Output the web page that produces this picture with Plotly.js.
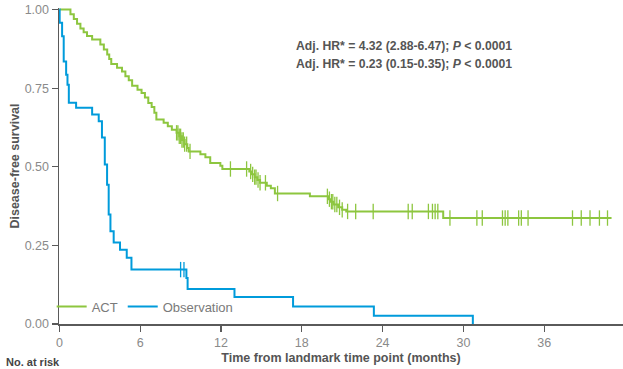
<!DOCTYPE html>
<html><head><meta charset="utf-8">
<script src="https://cdn.plot.ly/plotly-3.0.1.min.js"></script>
<style>html,body{margin:0;padding:0;background:#fff}</style>
</head><body><div id="chart" style="width:623px;height:369px"></div>
<script>
// ACT arm: Kaplan-Meier step points (months, survival)
const actTime = [0, 0.82, 1.07, 1.31, 1.56, 1.80, 2.05, 2.43, 3.04, 3.30, 3.55, 3.70, 3.85, 4.28, 4.65, 4.90, 5.15, 5.40, 5.80, 6.10, 6.35, 6.60, 6.85, 7.05, 7.20, 7.74, 8.05, 8.35, 8.70, 8.90, 9.10, 9.30, 9.50, 9.60, 10.47, 10.84, 11.20, 11.95, 12.10, 14.10, 14.30, 14.50, 14.70, 14.90, 15.40, 15.70, 16.00, 18.60, 19.95, 20.15, 20.35, 20.70, 21.00, 21.30, 28.50, 41.00];
const actSurv = [1.0, 0.985, 0.970, 0.955, 0.940, 0.928, 0.916, 0.905, 0.889, 0.873, 0.857, 0.843, 0.827, 0.815, 0.803, 0.788, 0.775, 0.758, 0.745, 0.735, 0.720, 0.703, 0.690, 0.672, 0.650, 0.640, 0.629, 0.618, 0.608, 0.597, 0.585, 0.572, 0.560, 0.549, 0.540, 0.530, 0.512, 0.503, 0.493, 0.485, 0.476, 0.467, 0.458, 0.449, 0.440, 0.432, 0.415, 0.406, 0.397, 0.389, 0.380, 0.371, 0.363, 0.358, 0.337, 0.337];
const actCensor = [8.7, 8.8, 8.9, 9.0, 9.1, 9.2, 9.3, 9.45, 9.7, 12.7, 13.9, 14.2, 14.35, 14.5, 14.6, 14.75, 14.9, 15.3, 16.2, 19.9, 20.05, 20.2, 20.3, 20.45, 20.6, 20.8, 21.0, 21.4, 22.0, 23.3, 25.9, 26.2, 27.4, 27.7, 27.9, 28.1, 29.0, 31.0, 31.4, 32.9, 33.1, 33.3, 34.1, 34.3, 34.8, 38.1, 38.75, 39.4, 40.1, 40.7];

// Observation arm
const obsTime = [0, 0.02, 0.20, 0.32, 0.50, 0.60, 0.70, 1.24, 2.43, 2.92, 3.16, 3.37, 3.54, 3.66, 3.79, 4.03, 4.50, 5.00, 5.35, 9.43, 9.52, 13.00, 17.35, 23.35, 30.70];
const obsSurv = [1.0, 0.958, 0.915, 0.835, 0.793, 0.761, 0.704, 0.688, 0.666, 0.645, 0.593, 0.507, 0.443, 0.348, 0.295, 0.259, 0.236, 0.211, 0.173, 0.146, 0.111, 0.086, 0.056, 0.026, 0.0];
const obsCensor = [9.0, 9.25];

const seriesNames = ['ACT', 'Observation'];
const xTicks = [0, 6, 12, 18, 24, 30, 36];
const yTicks = [0, 0.25, 0.5, 0.75, 1.0];
const hrLines = ['Adj. HR* = 4.32 (2.88-6.47); <i>P</i> &lt; 0.0001', 'Adj. HR* = 0.23 (0.15-0.35); <i>P</i> &lt; 0.0001'];

const GREEN = '#8dc63f', BLUE = '#009bdb';
const FONT = 'Liberation Sans, Arial, Helvetica, sans-serif';

function survAt(times, survs, t) {
  let s = survs[0];
  for (let i = 0; i < times.length; i++) { if (times[i] <= t) s = survs[i]; }
  return s;
}

const traces = [
  {x: actTime, y: actSurv, mode: 'lines', line: {shape: 'hv', color: GREEN, width: 2}, name: seriesNames[0], showlegend: true},
  {x: obsTime, y: obsSurv, mode: 'lines', line: {shape: 'hv', color: BLUE, width: 2}, name: seriesNames[1], showlegend: true},
  {x: actCensor, y: actCensor.map(t => survAt(actTime, actSurv, t)), mode: 'markers',
   marker: {symbol: 'line-ns', size: 11, line: {color: GREEN, width: 1.3}}, showlegend: false, cliponaxis: false},
  {x: obsCensor, y: obsCensor.map(t => survAt(obsTime, obsSurv, t)), mode: 'markers',
   marker: {symbol: 'line-ns', size: 11, line: {color: BLUE, width: 1.3}}, showlegend: false, cliponaxis: false}
];

const layout = {
  width: 623, height: 369,
  margin: {l: 59, r: 0, t: 8, b: 45},
  paper_bgcolor: '#fff', plot_bgcolor: '#fff',
  font: {family: FONT, color: '#555'},
  showlegend: true,
  legend: {orientation: 'h', x: -0.013, y: 0.055, xanchor: 'left', yanchor: 'middle',
           font: {size: 13, color: '#7a7a7a', family: FONT}, bgcolor: 'rgba(0,0,0,0)', itemwidth: 30, tracegroupgap: 0},
  xaxis: {
    range: [-0.03, 41.85], tickvals: xTicks, ticktext: xTicks.map(String),
    showline: true, linecolor: '#5a5a5a', linewidth: 1.5, ticks: 'outside', ticklen: 6, tickwidth: 1.2, tickcolor: '#5a5a5a',
    showgrid: false, zeroline: false, tickfont: {size: 12.5, color: '#8a8a8a', family: FONT},
    title: {text: '<b>Time from landmark time point (months)</b>', font: {size: 12.5, color: '#555', family: FONT}, standoff: 4}
  },
  yaxis: {
    range: [0, 1.005], tickvals: yTicks, ticktext: yTicks.map(v => v.toFixed(2)),
    showline: true, linecolor: '#5a5a5a', linewidth: 1.5, ticks: 'outside', ticklen: 6, tickwidth: 1.2, tickcolor: '#5a5a5a',
    showgrid: false, zeroline: false, tickfont: {size: 12.5, color: '#8a8a8a', family: FONT},
    title: {text: '<b>Disease-free survival</b>', font: {size: 12.5, color: '#555', family: FONT}, standoff: 2}
  },
  annotations: [
    {xref: 'paper', yref: 'paper', x: 0.417, y: (324 - 46) / 316, xanchor: 'left', yanchor: 'middle', showarrow: false,
     text: '<b>' + hrLines[0] + '</b>', font: {size: 12.2, color: '#555', family: FONT}},
    {xref: 'paper', yref: 'paper', x: 0.417, y: (324 - 64) / 316, xanchor: 'left', yanchor: 'middle', showarrow: false,
     text: '<b>' + hrLines[1] + '</b>', font: {size: 12.2, color: '#555', family: FONT}},
    {xref: 'paper', yref: 'paper', x: -55 / 564, y: -38 / 316, xanchor: 'left', yanchor: 'middle', showarrow: false,
     text: '<b>No. at risk</b>', font: {size: 11, color: '#444', family: FONT}}
  ]
};

Plotly.newPlot('chart', traces, layout, {displayModeBar: false, staticPlot: true});
</script>
</body></html>
